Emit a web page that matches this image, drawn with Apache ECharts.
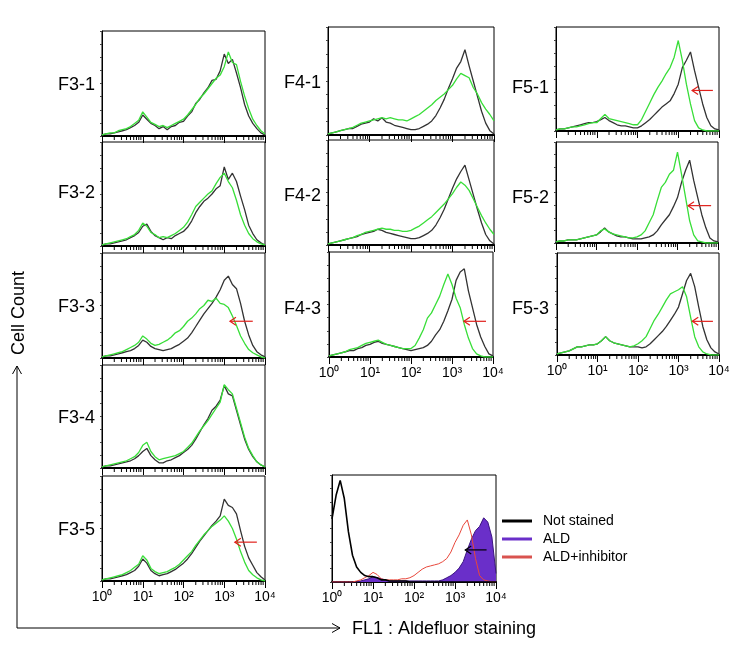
<!DOCTYPE html>
<html><head><meta charset="utf-8">
<script src="https://cdn.jsdelivr.net/npm/echarts@6/dist/echarts.min.js"></script>
<style>html,body{margin:0;padding:0;background:#fff}#c{width:737px;height:658px}</style>
</head><body><div id="c"></div><script>
// log10(FL1) positions of histogram channels
const logFL1 = [0,0.1,0.2,0.3,0.4,0.5,0.6,0.7,0.8,0.9,1.0,1.1,1.2,1.3,1.4,1.5,1.6,1.7,1.8,1.9,2.0,2.1,2.2,2.3,2.4,2.5,2.6,2.7,2.8,2.9,3.0,3.1,3.2,3.3,3.4,3.5,3.6,3.7,3.8,3.9,4.0];
// Cell count (% of panel height); K = black curve, G = green curve
const F31K = [1,2,2,3,4,5,6,8,10,13,20,16,12,10,7,9,6,9,10,13,14,19,23,31,35,41,46,53,54,62,78,69,73,60,46,30,19,12,7,3,1];
const F31G = [1,2,3,3,5,6,7,9,12,15,23,18,13,11,9,10,8,10,12,14,16,20,25,30,36,40,45,50,55,58,66,80,70,68,52,38,26,16,10,5,2];
const F32K = [1,2,2,3,4,5,6,8,10,13,19,21,14,10,8,6,8,7,10,12,14,18,24,32,38,43,46,50,55,58,76,64,70,62,48,35,20,12,6,3,1];
const F32G = [1,2,3,4,5,6,7,9,11,15,22,19,13,11,8,9,8,10,12,15,18,23,30,38,42,46,50,53,60,66,70,62,56,44,30,20,12,7,4,2,1];
const F33K = [1,2,2,3,4,5,6,7,9,12,17,15,11,9,8,7,8,9,11,13,16,19,24,30,36,42,47,52,58,65,74,78,70,66,52,35,22,12,6,3,1];
const F33G = [1,2,3,4,5,6,8,10,12,15,21,18,14,12,13,15,17,20,24,26,30,35,38,42,47,50,55,54,57,52,51,48,40,31,21,14,8,5,3,1,0];
const F34K = [1,2,2,3,4,5,6,7,9,12,16,19,12,8,5,5,7,8,10,12,15,18,22,28,35,42,48,56,60,66,80,72,70,56,42,28,18,11,6,3,1];
const F34G = [1,2,3,4,5,6,7,9,11,15,22,25,16,11,8,9,10,11,12,14,16,20,24,30,36,41,46,52,58,64,81,76,72,58,44,30,19,12,6,3,1];
const F35K = [1,2,2,3,4,5,6,8,10,14,21,17,10,7,5,6,7,9,11,14,17,21,26,32,38,43,48,53,57,62,78,72,70,64,48,33,22,15,8,4,1];
const F35G = [1,2,3,4,5,6,8,10,13,16,24,20,12,9,7,8,9,11,13,16,20,24,28,34,39,44,48,52,55,58,62,57,50,40,28,18,10,6,3,1,0];
const F41K = [1,2,3,4,5,6,6,8,10,11,12,15,13,16,12,11,9,8,7,6,5,5,6,8,10,13,18,25,33,43,52,62,68,79,64,50,36,22,11,4,1];
const F41G = [1,2,3,4,5,6,7,9,11,12,13,14,15,16,15,16,15,14,14,13,15,17,19,22,25,28,32,35,38,42,46,52,57,55,53,44,38,30,24,19,13];
const F42K = [1,2,3,4,5,6,7,8,10,11,12,13,15,14,12,11,10,9,8,7,6,6,7,9,11,14,19,26,34,44,54,63,70,76,62,48,34,21,10,4,1];
const F42G = [1,2,3,4,5,6,7,9,10,12,13,14,15,16,15,15,14,14,13,13,14,16,18,21,24,27,31,35,39,44,49,55,60,57,52,44,36,28,21,15,10];
const F43K = [1,2,3,4,5,6,6,8,9,11,12,14,15,13,12,11,10,9,8,7,6,7,8,9,11,15,21,26,34,44,55,73,81,84,63,47,31,19,10,3,1];
const F43G = [1,2,3,4,5,7,8,9,11,13,14,15,16,14,12,11,10,9,8,8,8,11,18,26,37,42,50,58,69,79,69,56,47,31,18,8,3,1,0,0,0];
const F51K = [1,2,2,3,4,5,6,7,8,8,9,11,13,10,8,6,5,5,4,3,3,5,8,11,15,19,23,26,29,36,45,61,68,76,58,42,26,13,5,2,1];
const F51G = [1,2,2,3,4,4,5,6,7,8,8,12,16,12,11,10,9,8,7,6,6,11,19,27,35,42,48,55,61,71,87,68,45,26,10,3,1,0,0,0,0];
const F52K = [1,2,2,3,3,3,4,5,6,7,8,11,15,11,9,7,6,6,5,4,4,4,5,6,8,12,18,23,28,36,45,60,72,82,62,45,28,15,5,2,1];
const F52G = [1,2,2,3,3,3,4,5,6,7,8,12,14,11,9,8,7,6,5,5,6,8,12,20,28,42,55,60,68,72,90,68,45,22,8,2,1,0,0,0,0];
const F53K = [1,2,3,4,6,8,8,9,10,10,11,14,18,14,12,11,10,9,8,8,8,7,8,11,15,19,23,28,34,40,47,60,73,80,67,47,28,15,7,3,1];
const F53G = [1,2,3,4,6,8,8,9,10,10,11,14,18,14,12,11,10,9,8,9,11,14,18,26,34,40,47,54,60,62,64,67,57,37,18,8,3,1,0,0,0];
// Control panel
const notStained = [59,81,95,78,47,25,14,9,6,5,5,4,2,2,1,1,1,1,1,0,0,0,0,0,0,0,0,0,0,0,0,0,0,0,0,0,0,0,0,0,0];
const ald = [0,0,0,0,0,0,0,1,2,3,5,4,3,2,1,1,1,1,1,1,1,1,1,1,1,1,1,2,4,6,9,13,19,30,40,48,52,60,56,42,8];
const aldInhib = [0,0,0,0,0,0,1,2,4,6,9,7,3,2,2,2,2,3,3,4,6,9,12,14,15,16,17,19,22,28,37,44,53,58,44,22,6,2,1,0,0];
// Shift arrows: [tip log10(FL1), height %, tail log10(FL1)]
const arrowF33 = [3.14, 35, 3.7];
const arrowF35 = [3.26, 37, 3.8];
const arrowF43 = [3.29, 34, 3.83];
const arrowF51 = [3.34, 39, 3.85];
const arrowF52 = [3.26, 37, 3.83];
const arrowF53 = [3.34, 33, 3.85];
const arrowCtrl = [3.25, 30, 3.77];

const FONT = "'Liberation Sans', Arial, sans-serif";
const SUP = {0:'\u2070',1:'\u00B9',2:'\u00B2',3:'\u00B3',4:'\u2074'};
const BLACK = '#333333', GREEN = '#38de38';

const panels = [
  {label:'F3-1', box:[102,31,163,105], lab:[95,85], k:F31K, g:F31G},
  {label:'F3-2', box:[102,142,163,104], lab:[95,193], k:F32K, g:F32G},
  {label:'F3-3', box:[102,253,163,105], lab:[95,307], k:F33K, g:F33G, arrow:arrowF33},
  {label:'F3-4', box:[102,365,163,103], lab:[95,418], k:F34K, g:F34G},
  {label:'F3-5', box:[102,476,163,105], lab:[95,530], k:F35K, g:F35G, arrow:arrowF35, ticks:true},
  {label:'F4-1', box:[328,27,166,108], lab:[321,83], k:F41K, g:F41G},
  {label:'F4-2', box:[328,140,166,105], lab:[321,196], k:F42K, g:F42G},
  {label:'F4-3', box:[329,252,164,105], lab:[321,309], k:F43K, g:F43G, arrow:arrowF43, ticks:true},
  {label:'F5-1', box:[556,27,163,104], lab:[549,88], k:F51K, g:F51G, arrow:arrowF51},
  {label:'F5-2', box:[556,142,162,101], lab:[549,198], k:F52K, g:F52G, arrow:arrowF52},
  {label:'F5-3', box:[557,253,162,102], lab:[549,309], k:F53K, g:F53G, arrow:arrowF53, ticks:true},
  {label:null, box:[332,475,164,107], ctrl:true, arrow:arrowCtrl, ticks:true}
];

const zip = ys => logFL1.map((x, i) => [x, ys[i]]);
const minorPos = [];
for (let d = 0; d < 4; d++) for (let m = 2; m <= 9; m++) minorPos.push([d + Math.log10(m), 0]);

const grids = [], xAxes = [], yAxes = [], series = [], graphics = [];
panels.forEach((p, i) => {
  grids.push({left:p.box[0], top:p.box[1], width:p.box[2], height:p.box[3], show:true,
    borderColor:'#000', borderWidth:1, backgroundColor:'#fff'});
  xAxes.push({gridIndex:i, type:'value', min:0, max:4, interval:1,
    axisLine:{show:true, onZero:false, lineStyle:{color:'#000', width:2}},
    axisTick:{show:true, length:7, lineStyle:{color:'#000', width:1}},
    axisLabel:{show:!!p.ticks, formatter:v => '10' + SUP[v], fontSize:14, color:'#000', margin:9, fontFamily:FONT},
    splitLine:{show:false}});
  yAxes.push({gridIndex:i, type:'value', min:0, max:100, interval:12.5,
    axisLine:{show:true, lineStyle:{color:'#000', width:1}},
    axisTick:{show:true, length:2, lineStyle:{color:'#444'}},
    axisLabel:{show:false}, splitLine:{show:false}});
  series.push({type:'custom', xAxisIndex:i, yAxisIndex:i, data:minorPos, silent:true, clip:false,
    renderItem:(params, api) => {
      const c = api.coord([api.value(0), 0]);
      return {type:'line', shape:{x1:c[0], y1:c[1], x2:c[0], y2:c[1] + 4}, style:{stroke:'#000', lineWidth:1}};
    }});
  if (p.ctrl) {
    series.push({name:'ALD', type:'line', xAxisIndex:i, yAxisIndex:i, data:zip(ald), symbol:'none',
      lineStyle:{color:'#3b1580', width:1}, itemStyle:{color:'#6a2fc9'}, areaStyle:{color:'#6a2fc9', opacity:1}, z:2});
    series.push({name:'ALD+inhibitor', type:'line', xAxisIndex:i, yAxisIndex:i, data:zip(aldInhib), symbol:'none',
      lineStyle:{color:'#e8483c', width:1}, itemStyle:{color:'#d9534f'}, z:3});
    series.push({name:'Not stained', type:'line', xAxisIndex:i, yAxisIndex:i, data:zip(notStained), symbol:'none',
      lineStyle:{color:'#000', width:1.6}, itemStyle:{color:'#000'}, z:4});
  } else {
    series.push({type:'line', xAxisIndex:i, yAxisIndex:i, data:zip(p.k), symbol:'none',
      lineStyle:{color:BLACK, width:1.3}, z:2});
    series.push({type:'line', xAxisIndex:i, yAxisIndex:i, data:zip(p.g), symbol:'none',
      lineStyle:{color:GREEN, width:1.3}, z:3});
    graphics.push({type:'text', x:p.lab[0], y:p.lab[1],
      style:{text:p.label, fontSize:18, fontFamily:FONT, fill:'#000', align:'right', verticalAlign:'middle'}});
  }
  if (p.arrow) {
    const col = p.ctrl ? '#000' : '#e0201b';
    series.push({type:'custom', xAxisIndex:i, yAxisIndex:i, data:[p.arrow], silent:true, clip:false, z:6,
      renderItem:(params, api) => {
        const tip = api.coord([api.value(0), api.value(1)]);
        const tail = api.coord([api.value(2), api.value(1)]);
        return {type:'group', children:[
          {type:'line', shape:{x1:tip[0], y1:tip[1], x2:tail[0], y2:tail[1]}, style:{stroke:col, lineWidth:1.2}},
          {type:'polyline', shape:{points:[[tip[0] + 6, tip[1] - 4], [tip[0], tip[1]], [tip[0] + 6, tip[1] + 4]]},
            style:{stroke:col, fill:null, lineWidth:1.2}}
        ]};
      }});
  }
});

// axis arrows and titles
graphics.push(
  {type:'polyline', shape:{points:[[17, 366], [17, 628], [340, 628]]}, style:{stroke:'#000', fill:null, lineWidth:1}},
  {type:'polyline', shape:{points:[[12.5, 374], [17, 366], [21.5, 374]]}, style:{stroke:'#000', fill:null, lineWidth:1}},
  {type:'polyline', shape:{points:[[332, 623.5], [340, 628], [332, 632.5]]}, style:{stroke:'#000', fill:null, lineWidth:1}},
  {type:'text', x:19, y:313, rotation:Math.PI / 2,
    style:{text:'Cell Count', fontSize:18, fontFamily:FONT, fill:'#000', align:'center', verticalAlign:'middle'}},
  {type:'text', x:352, y:629,
    style:{text:'FL1 : Aldefluor staining', fontSize:18, fontFamily:FONT, fill:'#000', align:'left', verticalAlign:'middle'}}
);

const chart = echarts.init(document.getElementById('c'), null, {renderer:'canvas'});
chart.setOption({
  animation:false,
  backgroundColor:'#fff',
  grid:grids, xAxis:xAxes, yAxis:yAxes, series:series, graphic:graphics,
  legend:{data:['Not stained', 'ALD', 'ALD+inhibitor'], orient:'vertical', left:502, top:512, padding:0,
    icon:'rect', itemWidth:30, itemHeight:3, itemGap:0, selectedMode:false,
    textStyle:{fontSize:14, fontFamily:FONT, color:'#000', lineHeight:18, padding:[0, 0, 0, 6]}}
});
</script></body></html>
